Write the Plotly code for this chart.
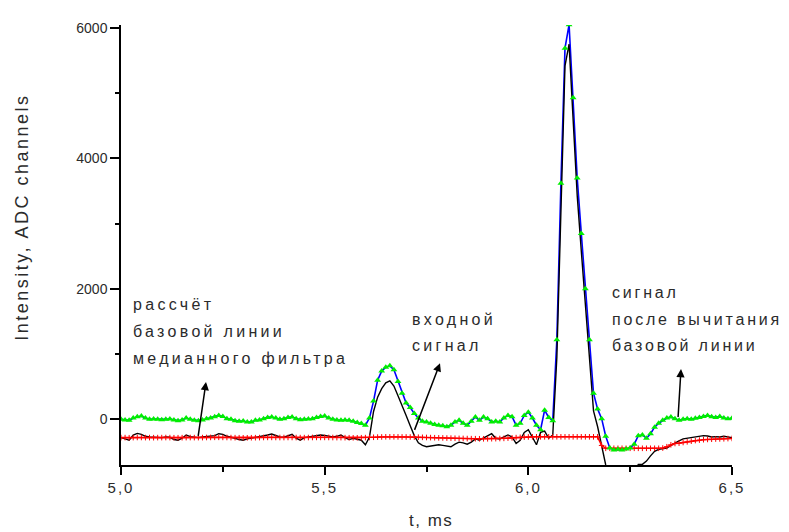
import plotly.graph_objects as go

# sample grid (ms)
t = [round(5.0 + 0.01 * i, 2) for i in range(151)]

# signal after baseline subtraction (blue line, green triangles)
corrected = [
    0, -10, -15, 20, 40, 50, 20, 0, 5, 0,
    -5, 0, 5, -10, -20, -10, 20, 0, -15, -20,
    -10, 10, 20, 40, 60, 45, 10, 0, -20, -30,
    -25, -40, -40, -15, -10, 10, 30, 35, 20, 0,
    10, 30, 35, 10, -5, 0, 5, 10, 30, 45,
    50, 20, 0, -10, -15, -10, -15, -30, -50, -65,
    -90, 20, 280, 600, 740, 800, 820, 760, 580, 400,
    250, 180, 90, 20, -30, -40, -60, -80, -90, -100,
    -115, -90, -40, -15, -60, -90, -30, 35, -15, 35,
    10, -40, -30, -40, 20, 60, 40, -90, -60, 60,
    110, 20, -90, -160, 140, 30, -20, 1220, 3620, 5690,
    6050, 4930, 3700, 2850, 2000, 1220, 400, 160, 10, -260,
    -440, -470, -460, -470, -455, -440, -380, -250, -240, -290,
    -220, -120, -60, -15, 20, 35, 10, -15, 0, 10,
    0, 15, 30, 45, 60, 40, 30, 45, 20, 10, 15,
]

# input signal (black)
raw = [
    -280, -300, -320, -240, -215, -230, -260, -270, -275, -270,
    -280, -270, -275, -310, -320, -290, -240, -265, -275, -280,
    -270, -265, -260, -250, -220, -230, -260, -270, -290, -310,
    -320, -300, -290, -280, -270, -260, -240, -225, -250, -270,
    -275, -250, -230, -290, -320, -280, -270, -265, -250, -240,
    -245, -260, -270, -260, -240, -280, -310, -290, -300, -320,
    -390, -270, 120, 340, 470, 560, 590, 510, 360, 220,
    60, -100, -250, -360, -400, -420, -410, -400, -390, -400,
    -410, -420, -380, -350, -360, -380, -350, -300, -320, -290,
    -260, -220, -290, -300, -270, -240, -270, -370, -320, -200,
    -160, -280, -390, -200, -180, -290, -240, 950, 3350, 5420,
    5750, 4660, 3430, 2580, 1730, 950, 130, -110, -410, -700,
    -880, -910, -900, -910, -900, -880, -830, -690, -690, -640,
    -560, -490, -460, -445, -440, -400, -360, -330, -300, -290,
    -280, -270, -260, -250, -255, -270, -265, -270, -260, -275, -280,
]

# median-filter baseline (red)
baseline = [
    -280, -280, -282, -280, -278, -278, -280, -280, -281, -280,
    -280, -279, -280, -282, -282, -281, -280, -279, -280, -280,
    -280, -278, -277, -276, -276, -277, -278, -280, -281, -282,
    -283, -283, -282, -281, -280, -278, -277, -277, -278, -279,
    -279, -278, -278, -279, -280, -280, -279, -278, -277, -277,
    -277, -278, -279, -280, -280, -281, -282, -283, -283, -282,
    -280, -278, -275, -272, -270, -268, -268, -268, -269, -270,
    -270, -271, -272, -274, -276, -278, -280, -282, -284, -285,
    -287, -288, -290, -292, -293, -295, -296, -297, -298, -298,
    -298, -297, -296, -294, -292, -288, -284, -280, -276, -272,
    -270, -268, -268, -268, -268, -268, -268, -268, -268, -268,
    -268, -268, -268, -268, -268, -268, -268, -268, -400, -444,
    -444, -444, -444, -444, -444, -444, -444, -444, -444, -444,
    -444, -444, -444, -440, -420, -390, -370, -365, -355, -345,
    -335, -325, -318, -312, -308, -305, -302, -300, -298, -295, -293,
]

x_tickvals = [5.0, 5.5, 6.0, 6.5]
x_ticktext = ["5,0", "5,5", "6,0", "6,5"]
y_tickvals = [0, 2000, 4000, 6000]
y_ticktext = ["0", "2000", "4000", "6000"]

label_baseline = ["рассчёт", "базовой линии", "медианного фильтра"]
label_input = ["входной", "сигнал"]
label_corrected = ["сигнал", "после вычитания", "базовой линии"]

# the page body adds an 8px margin; target positions are window pixels
OFF = 8
W, H = 789 - OFF, 532 - OFF
L, R, T, B = 121, 732, 20, 465          # plot area in window pixels
XR = [5.0, 6.5]
YR = [-700, 6045]


def px2x(px):
    return XR[0] + (px - L) / (R - L) * (XR[1] - XR[0])


def py2y(py):
    return YR[1] - (py - T) / (B - T) * (YR[1] - YR[0])


def px2paper(px):
    return (px - L) / (R - L)


def py2paper(py):
    return (B - py) / (B - T)


FONT = "Liberation Sans, Arial, sans-serif"
TXT = "#2b2b2b"


def spaced(s, sp):
    return '<span style="letter-spacing:%spx">%s</span>' % (sp, s)


fig = go.Figure()
fig.add_trace(go.Scatter(x=t, y=corrected, mode="lines",
                         line=dict(color="#0000ff", width=1.6), hoverinfo="skip"))
fig.add_trace(go.Scatter(x=t, y=raw, mode="lines",
                         line=dict(color="#000000", width=1.4)))
fig.add_trace(go.Scatter(x=t, y=baseline, mode="lines+markers",
                         line=dict(color="#ff0000", width=1.6),
                         marker=dict(symbol="cross-thin", size=4,
                                     line=dict(color="#ff0000", width=1))))
fig.add_trace(go.Scatter(x=t, y=corrected, mode="markers",
                         marker=dict(symbol="triangle-up", size=6, color="#00ee00",
                                     line=dict(width=0))))

annotations = []


def add_lines(lines, left_px, centers_px, sp=3.3):
    for s, cy in zip(lines, centers_px):
        annotations.append(dict(
            x=px2x(left_px - 2), y=py2y(cy), xref="x", yref="y",
            text=spaced(s, sp), showarrow=False, xanchor="left", yanchor="middle",
            font=dict(family=FONT, size=16, color=TXT)))


add_lines(label_baseline, 133, [303, 330, 357])
add_lines(label_input, 412, [318, 344])
add_lines(label_corrected, 612, [291, 318, 344], sp=2.8)

# arrows (head at the top, tail on the curve)
for head, tail in [((206, 381), (198, 437)),
                   ((440, 362), (414, 431)),
                   ((681, 368), (678, 418))]:
    annotations.append(dict(
        x=px2x(head[0]), y=py2y(head[1]), ax=px2x(tail[0]), ay=py2y(tail[1]),
        xref="x", yref="y", axref="x", ayref="y", text="", showarrow=True,
        arrowhead=2, arrowsize=1.1, arrowwidth=1.5, arrowcolor="#000000",
        standoff=0, startstandoff=0))

# axis titles
annotations.append(dict(
    x=px2paper(22), y=py2paper(215), xref="paper", yref="paper",
    xanchor="center", yanchor="middle",
    text=spaced("Intensity, ADC channels", 2.5),
    textangle=-90, showarrow=False, font=dict(family=FONT, size=18, color=TXT)))
annotations.append(dict(
    x=px2paper(431), y=py2paper(521), xref="paper", yref="paper",
    xanchor="center", yanchor="middle",
    text=spaced("t, ms", 1.5),
    showarrow=False, font=dict(family=FONT, size=17, color=TXT)))

fig.update_layout(
    width=W, height=H,
    margin=dict(l=L - OFF, r=789 - R, t=T - OFF, b=532 - B, pad=0),
    paper_bgcolor="white", plot_bgcolor="white",
    showlegend=False,
    annotations=annotations,
    font=dict(family=FONT, size=14, color=TXT),
)
fig.update_xaxes(
    range=XR, showgrid=False, zeroline=False,
    showline=True, linecolor="black", linewidth=1.5,
    ticks="outside", ticklen=8, tickwidth=1.5, tickcolor="black",
    tickmode="array", tickvals=x_tickvals,
    ticktext=[spaced(s, 2) for s in x_ticktext],
    tickfont=dict(family=FONT, size=15, color=TXT),
    minor=dict(tickvals=[5.25, 5.75, 6.25], ticks="outside", ticklen=5,
               tickwidth=1.5, tickcolor="black"),
)
fig.update_yaxes(
    range=YR, showgrid=False, zeroline=False,
    showline=True, linecolor="black", linewidth=1.5,
    ticks="outside", ticklen=9, tickwidth=1.5, tickcolor="black",
    tickmode="array", tickvals=y_tickvals, ticktext=y_ticktext,
    tickfont=dict(family=FONT, size=14, color=TXT),
    minor=dict(tickvals=[1000, 3000, 5000], ticks="outside", ticklen=4,
               tickwidth=1.5, tickcolor="black"),
)

fig.write_html("out.html")
